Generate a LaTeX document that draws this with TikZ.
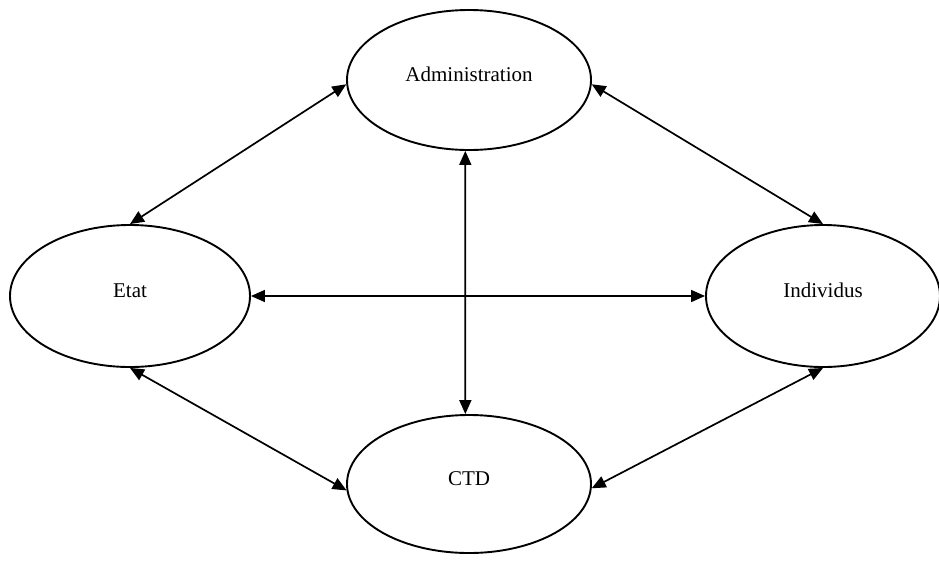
\documentclass[tikz,border=0pt]{standalone}
\usepackage{fontspec}
\setmainfont{Liberation Serif}
\usetikzlibrary{shapes.geometric,arrows.meta}
\begin{document}
\begin{tikzpicture}[x=1pt,y=-1pt,
  ell/.style={draw, ellipse, line width=1.9pt, inner sep=0pt,
    font=\fontsize{21}{25}\selectfont, text height=10pt, text depth=8pt},
  arr/.style={line width=1.7pt, {Triangle[length=14pt,width=12pt]}-{Triangle[length=14pt,width=12pt]}}]
\useasboundingbox (0,0) rectangle (939,563);
\node[ell, minimum width=244pt, minimum height=140pt] (adm) at (469,80) {Administration};
\node[ell, minimum width=240pt, minimum height=142pt] (etat) at (130,296) {Etat};
\node[ell, minimum width=234pt, minimum height=142pt] (ind) at (823,296) {Individus};
\node[ell, minimum width=244pt, minimum height=138pt] (ctd) at (469,484) {CTD};
\draw[arr] (adm.182) -- (etat.north);
\draw[arr] (adm.-2) -- (ind.north);
\draw[arr] (adm.267) -- (ctd.93);
\draw[arr] (etat.east) -- (ind.west);
\draw[arr] (etat.south) -- (ctd.183);
\draw[arr] (ind.south) -- (ctd.-2);
\end{tikzpicture}
\end{document}
